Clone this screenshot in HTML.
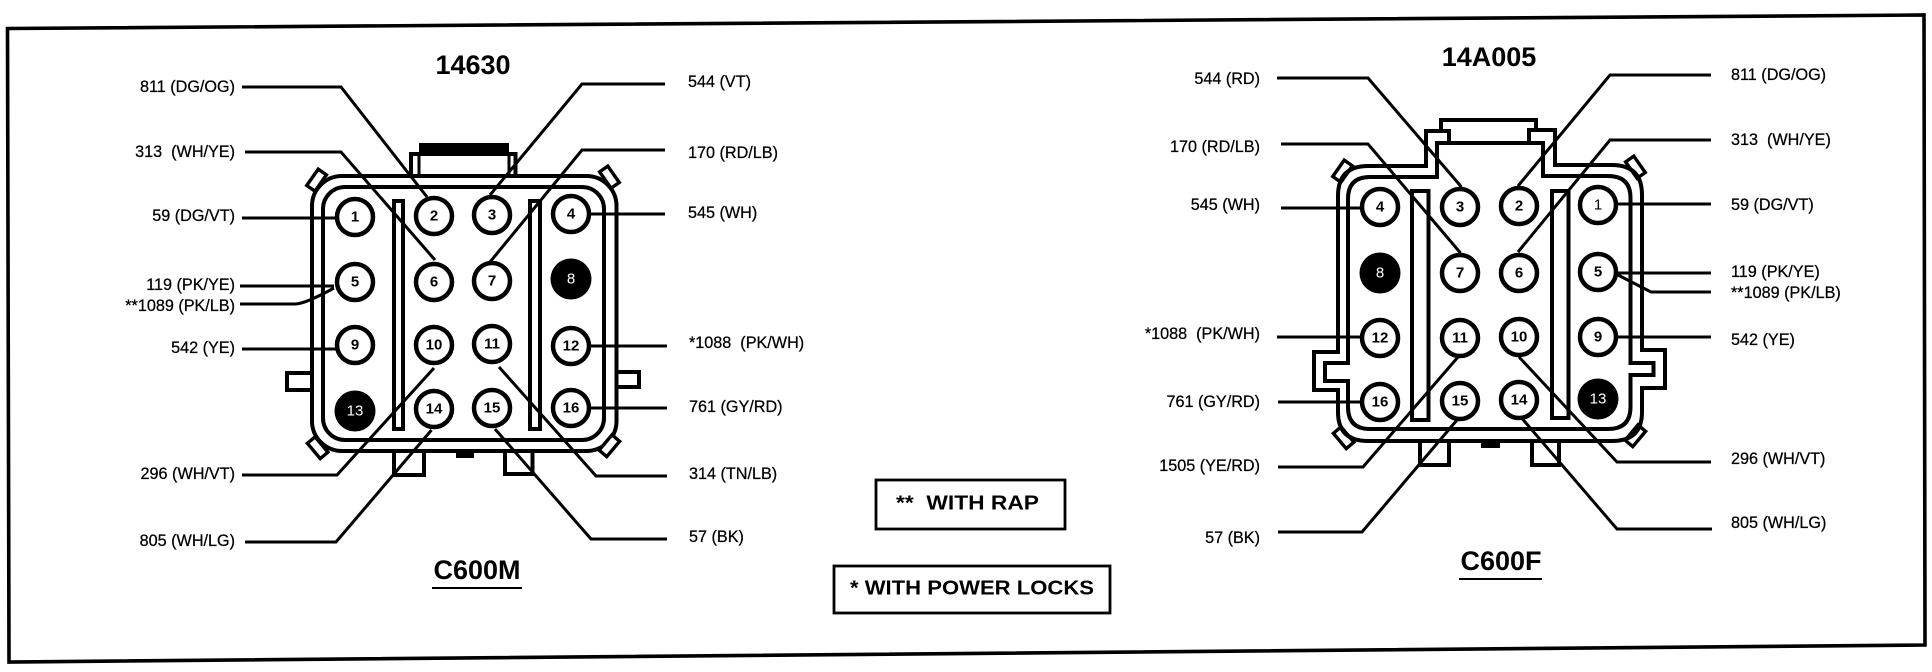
<!DOCTYPE html>
<html>
<head>
<meta charset="utf-8">
<style>
html,body{margin:0;padding:0;background:#fff;width:1932px;height:672px;overflow:hidden}
svg{display:block}
text{font-family:"Liberation Sans",sans-serif;fill:#000}
.l{font-size:16.2px;dominant-baseline:central;stroke:#000;stroke-width:.25}
.e{text-anchor:end}
.n{font-size:15px;font-weight:bold;text-anchor:middle;dominant-baseline:central}
.t{font-size:27px;font-weight:bold;text-anchor:middle;dominant-baseline:central}
.b{font-size:20.5px;font-weight:bold;dominant-baseline:central}
.s{fill:none;stroke:#000;stroke-width:4;stroke-linejoin:miter}
.w{fill:none;stroke:#000;stroke-width:3}
.p{fill:#fff;stroke:#000;stroke-width:4.5}
</style>
</head>
<body>
<svg width="1932" height="672" viewBox="0 0 1932 672" xmlns="http://www.w3.org/2000/svg">
<rect width="1932" height="672" fill="#fff"/>
<!-- frame -->
<path d="M7.5 28.5 L1924 15 L1925 645 L9 662 Z" fill="none" stroke="#000" stroke-width="3.6"/>

<!-- LEFT CONNECTOR -->
<g>
<rect x="419" y="143" width="90" height="10" fill="#000"/>
<path class="s" d="M411 176V154H515.5V176"/>
<path class="w" d="M419 154V176M509 154V176"/>
<rect class="s" x="312" y="176" width="304.5" height="275" rx="30" ry="30" fill="#fff"/>
<rect class="s" x="323" y="187" width="281" height="253" rx="22" ry="22" fill="#fff"/>
<path class="s" fill="#fff" d="M312 373H287V390H312"/>
<path class="s" fill="#fff" d="M616 372H639V387H616"/>
<path class="s" d="M394 452V475H424V452"/>
<path class="s" d="M505 452V474H532.5V452"/>
<rect x="456" y="452" width="18" height="6" fill="#000"/>
<g fill="#fff" stroke="#000" stroke-width="3.4">
<rect x="-5" y="-11" width="10" height="20" transform="translate(316 181) rotate(35)"/>
<rect x="-5" y="-11" width="10" height="20" transform="translate(610 178) rotate(-35)"/>
<rect x="-5" y="-9" width="10" height="20" transform="translate(317 447) rotate(-40)"/>
<rect x="-5" y="-9" width="10" height="20" transform="translate(610 445) rotate(40)"/>
</g>
<rect class="s" x="394" y="201" width="9" height="228" fill="#fff"/>
<rect class="s" x="530" y="201" width="10" height="228" fill="#fff"/>
</g>
<g class="s" style="stroke-width:3">
<path d="M242 87H341L427 197"/>
<path d="M665 84H582L490 195"/>
<path d="M245 152H341L435 260"/>
<path d="M665 150H582L490 262"/>
<path d="M242 218H336"/>
<path d="M591 214H665"/>
<path d="M240 286H334"/>
<path d="M240 304H295Q305 304 334 288"/>
<path d="M242 349H336"/>
<path d="M591 346H667"/>
<path d="M591 408H667"/>
<path d="M242 475H337L434 368"/>
<path d="M667 476H596L499 367"/>
<path d="M245 542H336L431.5 430"/>
<path d="M667 539H591L495 429"/>
</g>
<g>
<circle class="p" cx="355" cy="217" r="18"/><text class="n" x="355" y="217">1</text>
<circle class="p" cx="434" cy="216" r="18"/><text class="n" x="434" y="216">2</text>
<circle class="p" cx="492" cy="215" r="18"/><text class="n" x="492" y="215">3</text>
<circle class="p" cx="571" cy="214" r="18"/><text class="n" x="571" y="214">4</text>
<circle class="p" cx="355" cy="282" r="18"/><text class="n" x="355" y="282">5</text>
<circle class="p" cx="434" cy="282" r="18"/><text class="n" x="434" y="282">6</text>
<circle class="p" cx="492" cy="281" r="18"/><text class="n" x="492" y="281">7</text>
<circle cx="571" cy="279" r="20.5" fill="#000"/><text class="n" x="571" y="279" style="fill:#fff;font-weight:normal">8</text>
<circle class="p" cx="355" cy="345" r="18"/><text class="n" x="355" y="345">9</text>
<circle class="p" cx="434" cy="345" r="18"/><text class="n" x="434" y="345">10</text>
<circle class="p" cx="492" cy="344" r="18"/><text class="n" x="492" y="344">11</text>
<circle class="p" cx="571" cy="346" r="18"/><text class="n" x="571" y="346">12</text>
<circle cx="355" cy="411" r="20.5" fill="#000"/><text class="n" x="355" y="411" style="fill:#fff;font-weight:normal">13</text>
<circle class="p" cx="434" cy="409" r="18"/><text class="n" x="434" y="409">14</text>
<circle class="p" cx="492" cy="408" r="18"/><text class="n" x="492" y="408">15</text>
<circle class="p" cx="571" cy="408" r="18"/><text class="n" x="571" y="408">16</text>
</g>
<text class="t" x="473" y="65">14630</text>
<text class="l e" x="235" y="87">811 (DG/OG)</text>
<text class="l e" x="235" y="152" xml:space="preserve">313  (WH/YE)</text>
<text class="l e" x="235" y="216">59 (DG/VT)</text>
<text class="l e" x="235" y="285">119 (PK/YE)</text>
<text class="l e" x="235" y="306">**1089 (PK/LB)</text>
<text class="l e" x="235" y="348">542 (YE)</text>
<text class="l e" x="235" y="474">296 (WH/VT)</text>
<text class="l e" x="235" y="541">805 (WH/LG)</text>
<text class="l" x="688" y="82">544 (VT)</text>
<text class="l" x="688" y="153">170 (RD/LB)</text>
<text class="l" x="688" y="213">545 (WH)</text>
<text class="l" x="689" y="343" xml:space="preserve">*1088  (PK/WH)</text>
<text class="l" x="689" y="407">761 (GY/RD)</text>
<text class="l" x="689" y="474">314 (TN/LB)</text>
<text class="l" x="689" y="537">57 (BK)</text>
<text class="t" x="477" y="570">C600M</text>
<rect x="432" y="587" width="90" height="2" fill="#000"/>

<!-- RIGHT CONNECTOR -->
<g>
<path class="s" fill="#fff" d="M1338 352H1314V390H1338"/>
<path class="s" fill="#fff" d="M1642 350H1665V388H1642"/>
<path class="s" d="M1420 442V465H1449V442"/>
<path class="s" d="M1532 442V465H1559V442"/>
<rect x="1481" y="442" width="19" height="6" fill="#000"/>
<g fill="#fff" stroke="#000" stroke-width="3.4">
<rect x="-5" y="-11" width="10" height="20" transform="translate(1342 172) rotate(35)"/>
<rect x="-5" y="-11" width="10" height="20" transform="translate(1636 168) rotate(-35)"/>
<rect x="-5" y="-9" width="10" height="20" transform="translate(1343 437) rotate(-40)"/>
<rect x="-5" y="-9" width="10" height="20" transform="translate(1636 435) rotate(40)"/>
</g>
<path class="s" fill="#fff" d="M1368 166H1426V131H1441V120H1536V130H1555V165H1612Q1642 165 1642 195V350H1665V388H1642V412Q1642 441 1612 441H1368Q1338 441 1338 412V390H1314V352H1338V196Q1338 166 1368 166Z"/>
<path class="s" d="M1370 177H1437V143H1543V176H1608Q1630.5 176 1630.5 198V363H1653.5V375H1630.5V407Q1630.5 429 1608 429H1370Q1348 429 1348 407V381H1325V363H1348V199Q1348 177 1370 177Z"/>
<path class="s" d="M1426 131H1449V142M1555 130H1529V141"/>
<rect class="s" x="1412" y="191" width="16.5" height="229" fill="#fff"/>
<rect class="s" x="1552" y="191" width="16.5" height="227" fill="#fff"/>
</g>
<g class="s" style="stroke-width:3">
<path d="M1277 78H1368L1461.5 187"/>
<path d="M1711 75H1610L1518 186"/>
<path d="M1281 144H1368L1460.5 253"/>
<path d="M1711 140H1610L1518 252"/>
<path d="M1281 208H1362"/>
<path d="M1618 204H1711"/>
<path d="M1618 273H1711"/>
<path d="M1711 292H1651L1618 275"/>
<path d="M1277 337H1360"/>
<path d="M1618 337H1711"/>
<path d="M1278 402H1362"/>
<path d="M1278 467H1363L1458 357"/>
<path d="M1711 462H1617L1519 357"/>
<path d="M1278 532H1362L1457 420"/>
<path d="M1712 529H1617L1522.5 419"/>
</g>
<g>
<circle class="p" cx="1380" cy="207" r="18"/><text class="n" x="1380" y="207">4</text>
<circle class="p" cx="1460" cy="207" r="18"/><text class="n" x="1460" y="207">3</text>
<circle class="p" cx="1519" cy="206" r="18"/><text class="n" x="1519" y="206">2</text>
<circle class="p" cx="1598" cy="205" r="18"/><text class="n" x="1598" y="205" style="font-weight:normal">1</text>
<circle cx="1380" cy="273" r="20.5" fill="#000"/><text class="n" x="1380" y="273" style="fill:#fff;font-weight:normal">8</text>
<circle class="p" cx="1460" cy="273" r="18"/><text class="n" x="1460" y="273">7</text>
<circle class="p" cx="1519" cy="273" r="18"/><text class="n" x="1519" y="273">6</text>
<circle class="p" cx="1598" cy="272" r="18"/><text class="n" x="1598" y="272">5</text>
<circle class="p" cx="1380" cy="338" r="18"/><text class="n" x="1380" y="338">12</text>
<circle class="p" cx="1460" cy="338" r="18"/><text class="n" x="1460" y="338">11</text>
<circle class="p" cx="1519" cy="337" r="18"/><text class="n" x="1519" y="337">10</text>
<circle class="p" cx="1598" cy="337" r="18"/><text class="n" x="1598" y="337">9</text>
<circle class="p" cx="1380" cy="402" r="18"/><text class="n" x="1380" y="402">16</text>
<circle class="p" cx="1460" cy="401" r="18"/><text class="n" x="1460" y="401">15</text>
<circle class="p" cx="1519" cy="400" r="18"/><text class="n" x="1519" y="400">14</text>
<circle cx="1598" cy="399" r="20.5" fill="#000"/><text class="n" x="1598" y="399" style="fill:#fff;font-weight:normal">13</text>
</g>
<text class="t" x="1489" y="57">14A005</text>
<text class="l e" x="1260" y="79">544 (RD)</text>
<text class="l e" x="1260" y="147">170 (RD/LB)</text>
<text class="l e" x="1260" y="205">545 (WH)</text>
<text class="l e" x="1260" y="334" xml:space="preserve">*1088  (PK/WH)</text>
<text class="l e" x="1260" y="402">761 (GY/RD)</text>
<text class="l e" x="1260" y="466">1505 (YE/RD)</text>
<text class="l e" x="1260" y="538">57 (BK)</text>
<text class="l" x="1731" y="75">811 (DG/OG)</text>
<text class="l" x="1731" y="140" xml:space="preserve">313  (WH/YE)</text>
<text class="l" x="1731" y="205">59 (DG/VT)</text>
<text class="l" x="1731" y="272">119 (PK/YE)</text>
<text class="l" x="1731" y="293">**1089 (PK/LB)</text>
<text class="l" x="1731" y="340">542 (YE)</text>
<text class="l" x="1731" y="459">296 (WH/VT)</text>
<text class="l" x="1731" y="523">805 (WH/LG)</text>
<text class="t" x="1501" y="561">C600F</text>
<rect x="1459" y="578" width="83" height="2" fill="#000"/>

<!-- notes -->
<rect x="876" y="480" width="189" height="49" fill="#fff" stroke="#000" stroke-width="2.8"/>
<text class="b" x="896" y="503" textLength="143" lengthAdjust="spacingAndGlyphs" xml:space="preserve">**  WITH RAP</text>
<rect x="834" y="566" width="276" height="47" fill="#fff" stroke="#000" stroke-width="2.8"/>
<text class="b" x="850" y="588" textLength="244" lengthAdjust="spacingAndGlyphs">* WITH POWER LOCKS</text>
</svg>
</body>
</html>
